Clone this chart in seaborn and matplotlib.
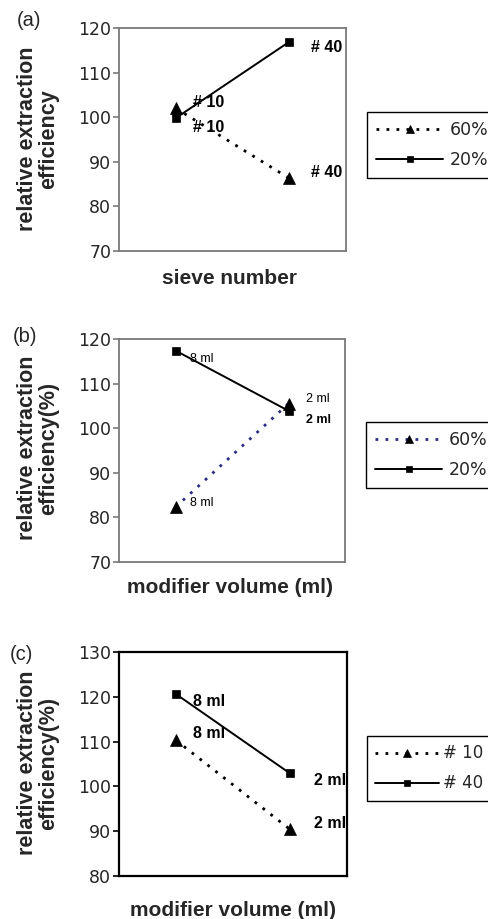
import matplotlib
matplotlib.use('Agg')
import matplotlib.pyplot as plt
import seaborn as sns
import numpy as np

sns.set_style('white')
plt.rcParams['font.family'] = ['Liberation Sans', 'DejaVu Sans']

# ---------------- data ----------------
a_points = ['# 10', '# 40']
a_60 = [102.0, 86.3]
a_20 = [99.8, 116.9]

b_points = ['8 ml', '2 ml']
b_60 = [82.3, 105.5]
b_20 = [117.4, 103.9]

c_points = ['8 ml', '2 ml']
c_10 = [110.3, 90.4]
c_40 = [120.6, 102.9]

a_names = ['60%', '20%']
b_names = ['60%', '20%']
c_names = ['# 10', '# 40']

W, H = 489, 919
fig = plt.figure(figsize=(W / 100, H / 100), dpi=100)

TICK_FONT = dict(family='DejaVu Sans', size=12.5)


def px_axes(l, t, r, b):
    return fig.add_axes([l / W, 1 - b / H, (r - l) / W, (b - t) / H])


def style_axes(ax, ylim, yticks, spine_color, spine_lw):
    ax.set_xlim(-0.5, 1.5)
    ax.set_ylim(*ylim)
    ax.set_xticks([])
    ax.set_yticks(yticks)
    ax.set_yticklabels([str(v) for v in yticks], fontdict=TICK_FONT)
    ax.tick_params(axis='y', left=True, length=4, width=1.2, pad=1.5,
                   color=spine_color, direction='out')
    for s in ax.spines.values():
        s.set_color(spine_color)
        s.set_linewidth(spine_lw)
    ax.set_xlabel('')
    ax.set_ylabel('')
    ax.grid(False)


def draw_series(ax, vals, name, kind, color='black'):
    xs = np.arange(len(vals))
    if kind == 'dot':
        sns.lineplot(x=xs, y=vals, ax=ax, color=color, marker='^', markersize=8,
                     markerfacecolor='black', markeredgecolor='black',
                     markeredgewidth=0.5, linestyle=(0, (1, 2.6)), linewidth=2.0,
                     label=name, sort=False)
    else:
        sns.lineplot(x=xs, y=vals, ax=ax, color=color, marker='s', markersize=6,
                     markerfacecolor='black', markeredgecolor='black',
                     markeredgewidth=0.5, linestyle='-', linewidth=1.4,
                     label=name, sort=False)


def annotate(ax, vals, labels, offsets, size, weights):
    for i, (v, lab) in enumerate(zip(vals, labels)):
        dx, dy = offsets[i]
        ax.annotate(lab, xy=(i, v), xytext=(dx, dy), textcoords='offset pixels',
                    ha='left', va='center', fontsize=size, fontweight=weights[i],
                    family='Liberation Sans', color='black')


def add_legend(ax, x_px, y_px, size=12.5, hl=3.9, htp=0.35):
    leg = ax.legend(loc='upper left', bbox_to_anchor=(x_px / W, 1 - y_px / H),
                    bbox_transform=fig.transFigure, frameon=True, fancybox=False,
                    edgecolor='black', framealpha=1, borderpad=0.5,
                    handlelength=hl, handletextpad=htp, labelspacing=0.72,
                    markerscale=0.75, borderaxespad=0,
                    prop={'family': 'DejaVu Sans', 'size': size})
    leg.get_frame().set_linewidth(1.0)
    return leg


def ylabel(text, y_px):
    fig.text(38 / W, 1 - y_px / H, text, rotation=90, ha='center', va='center',
             fontsize=15.5, fontweight='bold', linespacing=1.05,
             multialignment='center')


# ---------------- panel (a) ----------------
ax1 = px_axes(119, 28, 346, 251)
draw_series(ax1, a_60, a_names[0], 'dot')
draw_series(ax1, a_20, a_names[1], 'solid')
style_axes(ax1, (70, 120), [70, 80, 90, 100, 110, 120], '#7a7a7a', 1.3)
annotate(ax1, a_60, a_points, [(17, 6), (22, 6)], 11.5, ['bold', 'bold'])
annotate(ax1, a_20, a_points, [(17, -9), (22, -6)], 11.5, ['bold', 'bold'])
add_legend(ax1, 367, 112)
ylabel('relative extraction\nefficiency', 139)
fig.text(229.7 / W, 1 - 284 / H, 'sieve number', ha='center', va='baseline',
         fontsize=15, fontweight='bold')
fig.text(29 / W, 1 - 20 / H, '(a)', ha='center', va='center', fontsize=14.5)

# ---------------- panel (b) ----------------
ax2 = px_axes(119, 339, 345, 562)
draw_series(ax2, b_60, b_names[0], 'dot', color='#2b2b80')
draw_series(ax2, b_20, b_names[1], 'solid')
style_axes(ax2, (70, 120), [70, 80, 90, 100, 110, 120], '#7a7a7a', 1.3)
annotate(ax2, b_60, b_points, [(14, 4.5), (18, 5)], 9, ['normal', 'normal'])
annotate(ax2, b_20, b_points, [(14, -8), (18, -9.5)], 9, ['normal', 'bold'])
add_legend(ax2, 366, 422)
ylabel('relative extraction\nefficiency(%)', 448)
fig.text(230.5 / W, 1 - 593 / H, 'modifier volume (ml)', ha='center',
         va='baseline', fontsize=15, fontweight='bold')
fig.text(25 / W, 1 - 336 / H, '(b)', ha='center', va='center', fontsize=14.5)

# ---------------- panel (c) ----------------
ax3 = px_axes(119, 652, 347, 876)
draw_series(ax3, c_10, c_names[0], 'dot')
draw_series(ax3, c_40, c_names[1], 'solid')
style_axes(ax3, (80, 130), [80, 90, 100, 110, 120, 130], 'black', 1.6)
annotate(ax3, c_10, c_points, [(17, 7), (24, 6)], 11.5, ['bold', 'bold'])
annotate(ax3, c_40, c_points, [(17, -7), (24, -7)], 11.5, ['bold', 'bold'])
add_legend(ax3, 367, 736, size=12, hl=3.8, htp=0.25)
ylabel('relative extraction\nefficiency(%)', 763)
fig.text(233 / W, 1 - 916 / H, 'modifier volume (ml)', ha='center',
         va='baseline', fontsize=15, fontweight='bold')
fig.text(21.5 / W, 1 - 654 / H, '(c)', ha='center', va='center', fontsize=14.5)

fig.savefig('out.png', dpi=100)
